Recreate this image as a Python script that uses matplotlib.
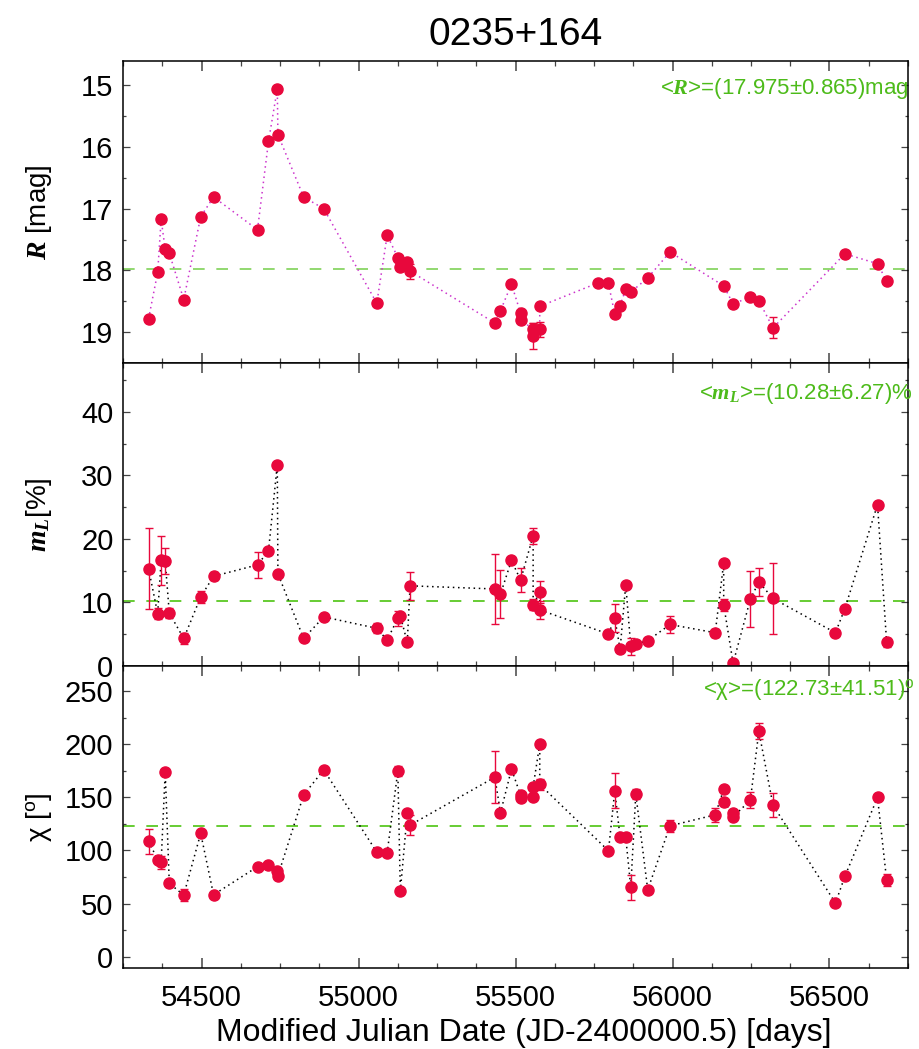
import numpy as np
import matplotlib
matplotlib.use('Agg')
import matplotlib.pyplot as plt
from matplotlib.ticker import MultipleLocator

plt.rcParams['font.family'] = ['Liberation Sans', 'DejaVu Sans']
plt.rcParams['mathtext.fontset'] = 'custom'
plt.rcParams['mathtext.rm'] = 'Liberation Sans'
plt.rcParams['mathtext.it'] = 'Liberation Serif:italic'
plt.rcParams['mathtext.bf'] = 'Liberation Serif:italic:bold'

# ---- data ----
mjd_R = [54331, 54360, 54371, 54384, 54397, 54443, 54497, 54538, 54678, 54713,
         54741, 54743, 54825, 54889, 55058, 55091, 55125, 55133, 55155, 55164,
         55434, 55452, 55487, 55516, 55516, 55556, 55556, 55577, 55577, 55763,
         55796, 55816, 55833, 55851, 55867, 55921, 55992, 56163, 56193, 56248,
         56275, 56320, 56549, 56653, 56682]
R_mag = [18.78, 18.03, 17.17, 17.66, 17.72, 18.47, 17.13, 16.81, 17.34, 15.91,
         15.06, 15.80, 16.81, 17.00, 18.53, 17.43, 17.79, 17.95, 17.86, 18.01,
         18.85, 18.65, 18.22, 18.69, 18.80, 18.95, 19.06, 18.95, 18.58, 18.20,
         18.21, 18.71, 18.57, 18.30, 18.35, 18.12, 17.70, 18.25, 18.54, 18.43,
         18.49, 18.93, 17.73, 17.89, 18.17]
R_err = [0.02] * 19 + [0.12] + \
        [0.02, 0.02, 0.02, 0.02, 0.02, 0.10, 0.21, 0.12, 0.02, 0.02] + \
        [0.02, 0.02, 0.02, 0.02, 0.07, 0.02, 0.02, 0.02, 0.02, 0.05] + \
        [0.02, 0.17, 0.02, 0.02, 0.02]

mjd_m = [54331, 54360, 54371, 54384, 54397, 54443, 54497, 54538, 54678, 54713,
         54741, 54743, 54825, 54889, 55058, 55091, 55125, 55133, 55155, 55164,
         55434, 55452, 55487, 55516, 55556, 55556, 55577, 55577, 55796, 55816,
         55833, 55851, 55867, 55883, 55921, 55992, 56136, 56163, 56163, 56193,
         56248, 56275, 56320, 56519, 56549, 56653, 56682]
m_L = [15.3, 8.2, 16.6, 16.5, 8.3, 4.3, 10.85, 14.1, 15.9, 18.1,
       31.7, 14.5, 4.3, 7.7, 5.9, 4.05, 7.5, 7.85, 3.7, 12.6,
       12.1, 11.3, 16.6, 13.5, 20.5, 9.6, 11.6, 8.8, 5.0, 7.5,
       2.6, 12.8, 3.05, 3.4, 3.95, 6.5, 5.2, 16.2, 9.6, 0.4,
       10.5, 13.2, 10.6, 5.2, 9.0, 25.4, 3.7]
m_err = [6.4, 0.85, 3.9, 2.0, 0.8, 0.8, 1.0, 0.6, 2.0, 0.5,
         0.3, 0.3, 0.3, 0.3, 0.8, 0.3, 1.2, 0.5, 0.3, 2.2,
         5.5, 3.85, 0.3, 1.85, 1.25, 0.85, 1.7, 1.4, 0.3, 2.2,
         0.3, 0.3, 1.3, 0.3, 0.3, 1.3, 0.6, 0.3, 0.9, 0.3,
         4.4, 2.2, 5.55, 0.3, 0.3, 0.3, 0.7]

mjd_chi = [54331, 54360, 54371, 54384, 54397, 54443, 54497, 54538, 54678, 54713,
           54741, 54743, 54825, 54889, 55058, 55091, 55125, 55133, 55155, 55164,
           55434, 55452, 55487, 55516, 55516, 55556, 55556, 55577, 55577, 55796,
           55816, 55833, 55851, 55867, 55883, 55921, 55992, 56136, 56163, 56163,
           56193, 56193, 56248, 56275, 56320, 56519, 56549, 56653, 56682]
chi = [108.6, 91.3, 88.8, 174.0, 69.0, 58.0, 116.1, 58.3, 84.7, 86.0,
       80.9, 76.2, 152.4, 175.9, 98.5, 97.8, 174.7, 61.8, 135.2, 123.9,
       169.0, 135.5, 176.6, 152.1, 149.6, 150.5, 160.0, 200.1, 162.2, 99.7,
       156.2, 112.3, 112.3, 65.3, 153.1, 63.0, 123.2, 133.6, 157.5, 145.8,
       134.9, 131.7, 147.4, 212.3, 142.7, 50.5, 75.6, 150.0, 72.2]
chi_err = [11.8, 1, 6.3, 1, 1, 5.3, 1, 1, 1, 1,
           1, 1, 1, 1, 1, 1, 5, 1, 1, 9.7,
           24.6, 1, 1, 1, 1, 1, 1, 1, 5.5, 1,
           16.5, 1, 1, 12, 4.4, 1, 5.8, 6.7, 1, 1,
           1, 1, 7.7, 7.5, 11.6, 1, 1, 1, 5.3]

R_mean, R_std = 17.975, 0.865
m_mean, m_std = 10.28, 6.27
chi_mean, chi_std = 122.73, 41.51

red = '#e8083c'
green_txt = '#4dbb1a'

fig = plt.figure(figsize=(9.19, 10.49), dpi=100)
gs = fig.add_gridspec(3, 1, left=0.134, right=0.988, top=0.9423, bottom=0.0769, hspace=0)
axes = [fig.add_subplot(gs[i]) for i in range(3)]


def panel(ax, t, y, e, line_col, mean, mean_col):
    ax.plot(t, y, color=line_col, lw=1.1, dashes=(1, 2.4), zorder=2)
    ax.errorbar(t, y, yerr=e, fmt='none', ecolor=red, elinewidth=1.0,
                capsize=3.2, capthick=1.0, zorder=3)
    ax.plot(t, y, 'o', color=red, ms=8, mec=red, zorder=4)
    ax.axhline(mean, color=mean_col, lw=1.4, dashes=(6, 6), zorder=1)
    ax.set_xlim(54250, 56750)
    ax.xaxis.set_major_locator(MultipleLocator(500))
    ax.xaxis.set_minor_locator(MultipleLocator(125))
    ax.tick_params(axis='both', which='both', direction='in', top=True, right=True,
                   labelsize=21, color='#444444')
    ax.tick_params(axis='x', which='major', length=7.2, width=1.1, pad=11)
    ax.tick_params(axis='x', which='minor', length=3.6, width=0.9)
    ax.tick_params(axis='y', which='major', length=5, width=0.9, pad=7)
    ax.tick_params(axis='y', which='minor', length=2.5, width=0.9)
    for s in ax.spines.values():
        s.set_linewidth(1.1)
    ax.yaxis.set_label_coords(-0.088, 0.5)


ax = axes[0]
panel(ax, mjd_R, R_mag, R_err, '#cc33cc', R_mean, '#92d870')
ax.set_ylim(19.5, 14.6)
ax.yaxis.set_major_locator(MultipleLocator(1))
ax.yaxis.set_minor_locator(MultipleLocator(0.5))
ax.set_ylabel(r'$\mathbf{R}$ [mag]', fontsize=20)
ax.text(1.0, 0.909, r'<$\mathbf{R}$>=(17.975±0.865)mag', transform=ax.transAxes,
        ha='right', va='center', fontsize=16, color=green_txt)
ax.set_title('0235+164', fontsize=28, pad=11)
ax.tick_params(labelbottom=False)

ax = axes[1]
panel(ax, mjd_m, m_L, m_err, 'black', m_mean, '#66cc33')
ax.set_ylim(0, 47.7)
ax.yaxis.set_major_locator(MultipleLocator(10))
ax.yaxis.set_minor_locator(MultipleLocator(5))
ax.set_ylabel(r'$\mathbf{m}_{\mathbf{L}}$[%]', fontsize=20)
ax.text(1.006, 0.90, r'<$\mathbf{m}_{\mathbf{L}}$>=(10.28±6.27)%', transform=ax.transAxes,
        ha='right', va='center', fontsize=16, color=green_txt)
ax.tick_params(labelbottom=False)

ax = axes[2]
panel(ax, mjd_chi, chi, chi_err, 'black', chi_mean, '#66cc33')
ax.set_ylim(-11, 274)
ax.yaxis.set_major_locator(MultipleLocator(50))
ax.yaxis.set_minor_locator(MultipleLocator(25))
ax.set_ylabel(r'χ [$^{\rm o}$]', fontsize=20)
ax.text(1.008, 0.92, r'<χ>=(122.73±41.51)$^{\rm o}$', transform=ax.transAxes,
        ha='right', va='center', fontsize=16, color=green_txt)
ax.set_xlabel('Modified Julian Date (JD-2400000.5) [days]', fontsize=23, labelpad=4.5)
ax.xaxis.label.set_x(0.511)

fig.savefig('out.png', dpi=100)
